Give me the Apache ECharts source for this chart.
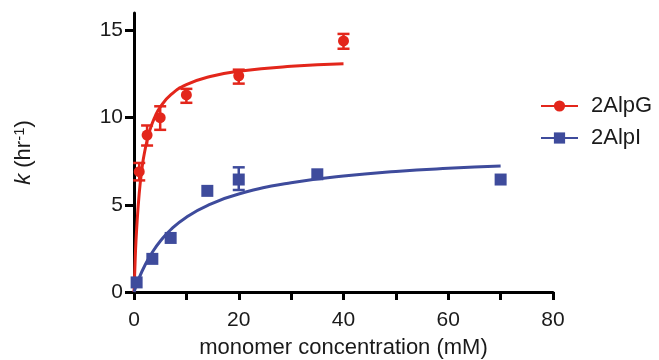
<!DOCTYPE html>
<html>
<head>
<meta charset="utf-8">
<script src="https://cdn.jsdelivr.net/npm/echarts@6/dist/echarts.min.js"></script>
<style>
  html, body { margin: 0; padding: 0; background: #fff; }
  #chart { width: 659px; height: 360px; }
</style>
</head>
<body>
<div id="chart"></div>
<script>
// measured points, 2AlpG
var gConc = [1, 2.5, 5, 10, 20, 40];
var gRate = [6.9, 9.0, 10.0, 11.3, 12.4, 14.4];
var gLow = [6.4, 8.4, 9.3, 10.85, 11.95, 13.95];
var gHigh = [7.4, 9.55, 10.65, 11.65, 12.75, 14.8];

// measured points, 2AlpI (error bar only at 20 mM)
var iConc = [0.5, 3.5, 7, 14, 20, 35, 70];
var iRate = [0.55, 1.9, 3.1, 5.8, 6.45, 6.75, 6.45];
var iErrConc = [20];
var iErrLow = [5.85];
var iErrHigh = [7.15];

// fitted curves
var gFitX = [0, 0.25, 0.5, 1, 1.5, 2, 3, 4, 5, 7, 10, 15, 20, 30, 40];
var gFitY = [0, 2.06, 3.58, 5.67, 7.03, 7.99, 9.25, 10.05, 10.6, 11.3, 11.89, 12.39, 12.66, 12.94, 13.09];
var iFitX = [0, 1, 2, 3.5, 5, 7, 10, 14, 20, 30, 40, 50, 60, 70];
var iFitY = [0, 0.82, 1.48, 2.28, 2.91, 3.57, 4.29, 4.96, 5.62, 6.27, 6.65, 6.91, 7.09, 7.22];

var xTicks = [0, 10, 20, 30, 40, 50, 60, 70, 80];
var xLabels = [0, 20, 40, 60, 80];
var yTicks = [0, 5, 10, 15];

var RED = "#e3261b";
var BLUE = "#3e4b9c";
var INK = "#1a1a1a";
var FONT = "Liberation Sans";

function zip(a, b) {
	return a.map(function (v, i) { return [v, b[i]]; });
}
function zip3(a, b, c) {
	return a.map(function (v, i) { return [v, b[i], c[i]]; });
}

// draws vertical error bar with caps
function errorBar(color) {
	return function (params, api) {
		var x = api.value(0);
		var top = api.coord([x, api.value(2)]);
		var bot = api.coord([x, api.value(1)]);
		var hw = 6;
		var st = { stroke: color, lineWidth: 2.5 };
		return {
			type: "group",
			children: [
				{ type: "line", shape: { x1: top[0], y1: top[1], x2: bot[0], y2: bot[1] }, style: st },
				{ type: "line", shape: { x1: top[0] - hw, y1: top[1], x2: top[0] + hw, y2: top[1] }, style: st },
				{ type: "line", shape: { x1: bot[0] - hw, y1: bot[1], x2: bot[0] + hw, y2: bot[1] }, style: st },
			],
		};
	};
}

var chart = echarts.init(document.getElementById("chart"));
var axisLine = { lineStyle: { color: "#000", width: 3 } };

var option = {
	animation: false,
	textStyle: { fontFamily: FONT },
	grid: { left: 134, right: 106, top: 13, bottom: 68, containLabel: false, outerBoundsMode: "none" },
	legend: {
		data: ["2AlpG", "2AlpI"],
		orient: "vertical",
		left: 535,
		top: 90,
		itemWidth: 37,
		itemHeight: 14,
		itemGap: 10,
		textStyle: { fontSize: 22, color: INK, fontFamily: FONT, padding: [0, 0, 0, 8] },
	},
	xAxis: {
		type: "value",
		min: 0,
		max: 80,
		interval: 10,
		name: "monomer concentration (mM)",
		nameLocation: "middle",
		nameGap: 45,
		nameTextStyle: { fontSize: 22, color: INK, fontFamily: FONT },
		axisLine: axisLine,
		axisTick: { length: 8, lineStyle: { color: "#000", width: 3 }, customValues: xTicks },
		axisLabel: { fontSize: 21, color: INK, margin: 18, customValues: xLabels },
		splitLine: { show: false },
	},
	yAxis: {
		type: "value",
		min: 0,
		max: 16,
		interval: 5,
		name: "{i|k} (hr{s|-1})",
		nameLocation: "middle",
		nameGap: 98,
		nameRotate: 90,
		nameTextStyle: {
			fontSize: 22,
			color: INK,
			fontFamily: FONT,
			rich: {
				i: { fontSize: 22, fontStyle: "italic", color: INK, fontFamily: FONT },
				s: { fontSize: 15, color: INK, fontFamily: FONT, verticalAlign: "top", padding: [0, 0, 9, 0] },
			},
		},
		axisLine: axisLine,
		axisTick: { length: 9, lineStyle: { color: "#000", width: 3 }, customValues: yTicks },
		axisLabel: { fontSize: 21, color: INK, margin: 11, customValues: yTicks },
		splitLine: { show: false },
	},
	series: [
		{
			name: "2AlpG",
			type: "line",
			data: zip(gFitX, gFitY),
			smooth: true,
			showSymbol: false,
			symbol: "circle",
			symbolSize: 11,
			itemStyle: { color: RED },
			lineStyle: { color: RED, width: 3 },
			z: 3,
		},
		{
			name: "2AlpI",
			type: "line",
			data: zip(iFitX, iFitY),
			smooth: true,
			showSymbol: false,
			symbol: "rect",
			symbolSize: 12,
			itemStyle: { color: BLUE },
			lineStyle: { color: BLUE, width: 3 },
			z: 3,
		},
		{
			name: "2AlpG points",
			type: "scatter",
			data: zip(gConc, gRate),
			symbol: "circle",
			symbolSize: 11,
			itemStyle: { color: RED, opacity: 1 },
			z: 4,
		},
		{
			name: "2AlpI points",
			type: "scatter",
			data: zip(iConc, iRate),
			symbol: "rect",
			symbolSize: 12,
			itemStyle: { color: BLUE, opacity: 1 },
			z: 4,
		},
		{
			name: "2AlpG error",
			type: "custom",
			renderItem: errorBar(RED),
			data: zip3(gConc, gLow, gHigh),
			z: 4,
		},
		{
			name: "2AlpI error",
			type: "custom",
			renderItem: errorBar(BLUE),
			data: zip3(iErrConc, iErrLow, iErrHigh),
			z: 2,
		},
	],
};
chart.setOption(option);
</script>
</body>
</html>
